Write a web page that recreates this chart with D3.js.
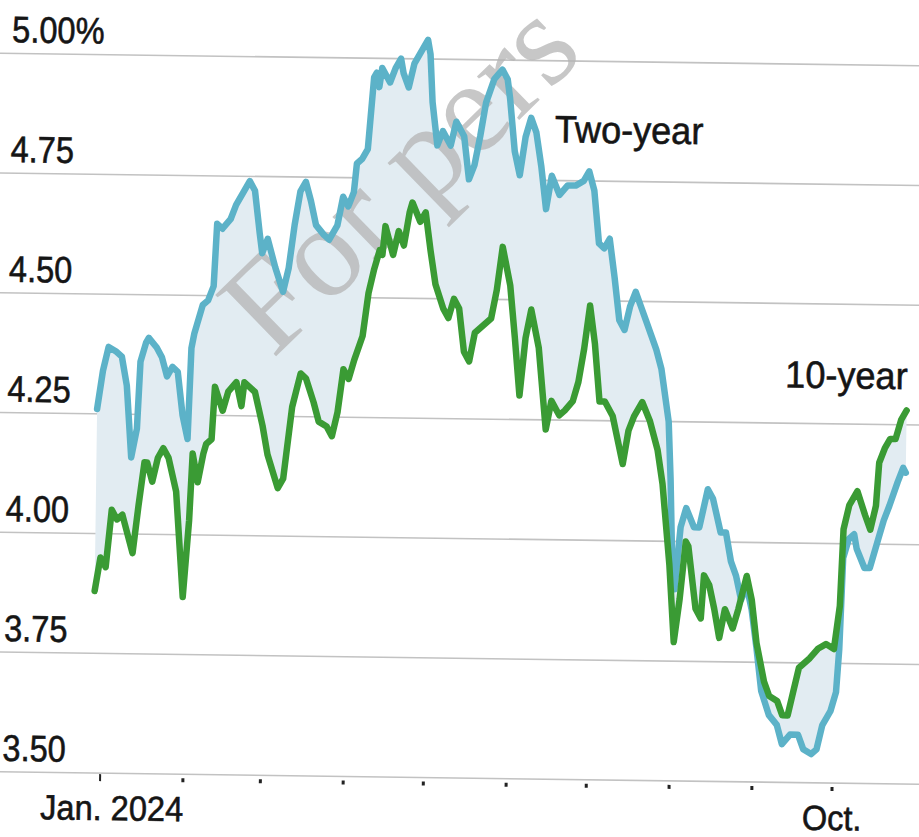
<!DOCTYPE html>
<html>
<head>
<meta charset="utf-8">
<script src="https://cdn.jsdelivr.net/npm/d3@7"></script>
<style>
  html, body { margin: 0; padding: 0; background: #ffffff; }
  svg { display: block; }
</style>
</head>
<body>
<div id="chart"></div>
<script>
// ---------- DATA ----------
const twoYearDates = [
  "2023-12-29","2023-12-31","2024-01-02","2024-01-05","2024-01-07","2024-01-09","2024-01-11","2024-01-13","2024-01-14","2024-01-16",
  "2024-01-17","2024-01-20","2024-01-22","2024-01-24","2024-01-26","2024-01-28","2024-01-30","2024-02-01","2024-02-02","2024-02-03",
  "2024-02-04","2024-02-06","2024-02-08","2024-02-10","2024-02-11","2024-02-13","2024-02-16","2024-02-18","2024-02-21","2024-02-23",
  "2024-02-25","2024-02-27","2024-02-28","2024-03-01","2024-03-04","2024-03-07","2024-03-09","2024-03-11","2024-03-13","2024-03-15",
  "2024-03-17","2024-03-19","2024-03-22","2024-03-24","2024-03-27","2024-03-29","2024-03-31","2024-04-02","2024-04-03","2024-04-05",
  "2024-04-07","2024-04-09","2024-04-10","2024-04-11","2024-04-12","2024-04-15","2024-04-17","2024-04-19","2024-04-20","2024-04-22",
  "2024-04-24","2024-04-26","2024-04-29","2024-04-30","2024-05-01","2024-05-03","2024-05-05","2024-05-08","2024-05-10","2024-05-13",
  "2024-05-15","2024-05-17","2024-05-19","2024-05-21","2024-05-24","2024-05-27","2024-05-29","2024-05-30","2024-06-01","2024-06-03",
  "2024-06-05","2024-06-07","2024-06-09","2024-06-11","2024-06-13","2024-06-15","2024-06-18","2024-06-21","2024-06-24","2024-06-27",
  "2024-06-29","2024-07-01","2024-07-03","2024-07-05","2024-07-07","2024-07-09","2024-07-11","2024-07-13","2024-07-15","2024-07-17",
  "2024-07-19","2024-07-21","2024-07-23","2024-07-25","2024-07-27","2024-07-30","2024-07-31","2024-08-01","2024-08-02","2024-08-04",
  "2024-08-06","2024-08-09","2024-08-11","2024-08-14","2024-08-16","2024-08-19","2024-08-21","2024-08-23","2024-08-25","2024-08-27",
  "2024-08-29","2024-08-31","2024-09-02","2024-09-04","2024-09-07","2024-09-10","2024-09-12","2024-09-15","2024-09-18","2024-09-20",
  "2024-09-23","2024-09-25","2024-09-27","2024-09-30","2024-10-02","2024-10-03","2024-10-04","2024-10-06","2024-10-08","2024-10-09",
  "2024-10-12","2024-10-14","2024-10-17","2024-10-19","2024-10-21","2024-10-24","2024-10-26","2024-10-27"
];
const twoYearValues = [
  4.26,4.34,4.39,4.38,4.37,4.31,4.16,4.22,4.36,4.40,
  4.41,4.39,4.37,4.33,4.35,4.34,4.25,4.20,4.39,4.42,
  4.44,4.48,4.49,4.52,4.65,4.64,4.66,4.69,4.72,4.74,
  4.72,4.63,4.59,4.62,4.56,4.51,4.56,4.65,4.72,4.74,
  4.70,4.65,4.63,4.62,4.65,4.71,4.69,4.72,4.78,4.79,
  4.81,4.96,4.97,4.94,4.98,4.95,4.98,5.00,4.97,4.94,
  4.99,5.01,5.04,5.01,4.91,4.82,4.85,4.82,4.87,4.84,
  4.75,4.78,4.84,4.91,4.96,4.98,4.96,4.92,4.81,4.76,
  4.84,4.88,4.85,4.78,4.69,4.76,4.72,4.74,4.74,4.75,
  4.77,4.73,4.62,4.61,4.63,4.55,4.46,4.44,4.49,4.52,
  4.49,4.46,4.43,4.40,4.36,4.25,4.13,3.96,3.90,4.03,
  4.07,4.03,4.03,4.11,4.09,4.02,4.02,3.96,3.93,3.88,
  3.91,3.86,3.78,3.69,3.64,3.62,3.58,3.60,3.60,3.57,
  3.56,3.57,3.62,3.65,3.69,3.78,3.97,4.01,4.02,3.99,
  3.95,3.95,4.01,4.05,4.08,4.13,4.16,4.15
];
const tenYearDates = [
  "2023-12-29","2023-12-31","2024-01-02","2024-01-04","2024-01-06","2024-01-08","2024-01-12","2024-01-14","2024-01-16","2024-01-17",
  "2024-01-19","2024-01-21","2024-01-23","2024-01-25","2024-01-28","2024-01-31","2024-02-02","2024-02-03","2024-02-05","2024-02-07",
  "2024-02-08","2024-02-10","2024-02-11","2024-02-14","2024-02-16","2024-02-19","2024-02-21","2024-02-22","2024-02-24","2024-02-26",
  "2024-02-29","2024-03-02","2024-03-06","2024-03-08","2024-03-09","2024-03-11","2024-03-14","2024-03-16","2024-03-19","2024-03-21",
  "2024-03-24","2024-03-26","2024-03-28","2024-03-30","2024-04-01","2024-04-03","2024-04-06","2024-04-08","2024-04-10","2024-04-12",
  "2024-04-13","2024-04-14","2024-04-17","2024-04-19","2024-04-21","2024-04-23","2024-04-24","2024-04-27","2024-04-29","2024-05-01",
  "2024-05-03","2024-05-06","2024-05-08","2024-05-10","2024-05-12","2024-05-14","2024-05-16","2024-05-18","2024-05-20","2024-05-24",
  "2024-05-26","2024-05-28","2024-05-31","2024-06-02","2024-06-04","2024-06-06","2024-06-08","2024-06-11","2024-06-14","2024-06-16",
  "2024-06-19","2024-06-21","2024-06-24","2024-06-26","2024-06-28","2024-06-30","2024-07-02","2024-07-04","2024-07-06","2024-07-09",
  "2024-07-11","2024-07-13","2024-07-15","2024-07-17","2024-07-20","2024-07-23","2024-07-26","2024-07-28","2024-07-31","2024-08-02",
  "2024-08-04","2024-08-06","2024-08-07","2024-08-10","2024-08-12","2024-08-13","2024-08-15","2024-08-17","2024-08-19","2024-08-21",
  "2024-08-24","2024-08-26","2024-08-29","2024-08-31","2024-09-02","2024-09-05","2024-09-07","2024-09-10","2024-09-12","2024-09-14",
  "2024-09-16","2024-09-18","2024-09-22","2024-09-25","2024-09-28","2024-10-01","2024-10-03","2024-10-04","2024-10-06","2024-10-09",
  "2024-10-12","2024-10-14","2024-10-16","2024-10-17","2024-10-19","2024-10-21","2024-10-23","2024-10-25","2024-10-27"
];
const tenYearValues = [
  3.88,3.95,3.93,4.05,4.03,4.04,3.96,4.06,4.15,4.15,
  4.11,4.16,4.18,4.16,4.09,3.87,4.03,4.17,4.11,4.17,
  4.19,4.20,4.31,4.26,4.30,4.32,4.27,4.32,4.31,4.30,
  4.23,4.17,4.10,4.12,4.17,4.27,4.34,4.33,4.28,4.24,
  4.23,4.21,4.26,4.35,4.33,4.37,4.42,4.51,4.56,4.60,
  4.59,4.65,4.59,4.64,4.61,4.68,4.70,4.66,4.68,4.60,
  4.53,4.48,4.46,4.50,4.48,4.39,4.37,4.43,4.44,4.46,
  4.52,4.61,4.53,4.42,4.30,4.42,4.48,4.40,4.23,4.29,
  4.26,4.27,4.29,4.33,4.40,4.49,4.41,4.29,4.29,4.26,
  4.21,4.16,4.23,4.26,4.29,4.25,4.19,4.12,3.95,3.79,
  3.88,4.00,3.99,3.86,3.84,3.93,3.91,3.86,3.80,3.86,
  3.82,3.86,3.93,3.88,3.79,3.71,3.68,3.67,3.64,3.64,
  3.69,3.74,3.76,3.78,3.79,3.78,3.87,4.03,4.08,4.11,
  4.06,4.03,4.08,4.17,4.20,4.22,4.22,4.26,4.28
];
const seriesNames = ["Two-year", "10-year"];
const yTickValues = [3.5, 3.75, 4.0, 4.25, 4.5, 4.75, 5.0];
const yTickLabels = ["3.50", "3.75", "4.00", "4.25", "4.50", "4.75", "5.00%"];
const monthTicks = ["2024-01-01","2024-02-01","2024-03-01","2024-04-01","2024-05-01",
                    "2024-06-01","2024-07-01","2024-08-01","2024-09-01","2024-10-01"];
const monthTickLabels = ["Jan. 2024","","","","","","","","","Oct."];
const watermarkText = "For pers";

// ---------- CHART ----------
const W = 919, H = 837;
const parse = d3.utcParse("%Y-%m-%d");
const colors = { two: "#5cb2c8", ten: "#3a9b34", fill: "#e2ecf2", grid: "#c2c2c2", text: "#151515" };

const x = d3.scaleUtc()
  .domain([parse("2024-01-01"), parse("2024-10-01")])
  .range([105, 837]);
const y = d3.scaleLinear()
  .domain([3.5, 5.0])
  .range([778, 59.5]);

const two = twoYearDates.map((d, i) => ({ date: parse(d), value: twoYearValues[i] }));
const ten = tenYearDates.map((d, i) => ({ date: parse(d), value: tenYearValues[i] }));

const svg = d3.select("#chart").append("svg")
  .attr("width", W).attr("height", H)
  .attr("viewBox", `0 0 ${W} ${H}`);
svg.append("rect").attr("width", W).attr("height", H).attr("fill", "#ffffff");

// slight tilt of the scanned page
const g = svg.append("g").attr("transform", "rotate(0.78,460,420)");

// gridlines
g.append("g").selectAll("line").data(yTickValues).join("line")
  .attr("x1", -12).attr("x2", W + 12)
  .attr("y1", d => y(d)).attr("y2", d => y(d))
  .attr("stroke", colors.grid)
  .attr("stroke-width", 1.6);

function scaledText(parent, tx, ty, str, size, sx, anchor) {
  return parent.append("text")
    .attr("transform", `translate(${tx},${ty}) scale(${sx},1)`)
    .attr("text-anchor", anchor || "start")
    .attr("font-family", "'Liberation Sans', Arial, sans-serif")
    .attr("font-size", size)
    .attr("fill", colors.text)
    .attr("stroke", colors.text)
    .attr("stroke-width", 0.6)
    .text(str);
}
// y tick labels
const yLab = g.append("g");
yTickValues.forEach((v, i) => scaledText(yLab, 7, y(v) - 11, yTickLabels[i], 37, 0.88, "start"));

// x ticks
const xAx = g.append("g");
monthTicks.forEach((m, i) => {
  const px = x(parse(m));
  xAx.append("line")
    .attr("x1", px).attr("x2", px)
    .attr("y1", y(3.5) + (i === 0 ? 1 : 4)).attr("y2", y(3.5) + 8)
    .attr("stroke", "#222").attr("stroke-width", i === 0 ? 2 : 3);
  if (monthTickLabels[i]) {
    scaledText(xAx, px + (i === 0 ? 12 : 0), 825, monthTickLabels[i], 35, 0.93, "middle");
  }
});

// area between the two series
const pts = two.map(d => [x(d.date), y(d.value)])
  .concat(ten.slice().reverse().map(d => [x(d.date), y(d.value)]));
g.append("path")
  .attr("d", d3.line()(pts) + "Z")
  .attr("fill", colors.fill)
  .attr("stroke", "none");

// watermark
g.append("text")
  .attr("transform", "translate(272,362) rotate(-45)")
  .attr("font-family", "'Liberation Serif', 'Times New Roman', serif")
  .attr("font-size", 132)
  .attr("fill", "#b4b4b4")
  .attr("fill-opacity", 0.75)
  .text(watermarkText);

const line = d3.line().x(d => x(d.date)).y(d => y(d.value)).curve(d3.curveLinear);
g.append("path").datum(two).attr("d", line)
  .attr("fill", "none").attr("stroke", colors.two)
  .attr("stroke-width", 6.5).attr("stroke-linejoin", "round").attr("stroke-linecap", "round");
g.append("path").datum(ten).attr("d", line)
  .attr("fill", "none").attr("stroke", colors.ten)
  .attr("stroke-width", 6.5).attr("stroke-linejoin", "round").attr("stroke-linecap", "round");

// series labels
scaledText(g, 551, 141, seriesNames[0], 38, 0.95, "start");
scaledText(g, 907, 383, seriesNames[1], 38, 0.95, "end");
</script>
</body>
</html>
